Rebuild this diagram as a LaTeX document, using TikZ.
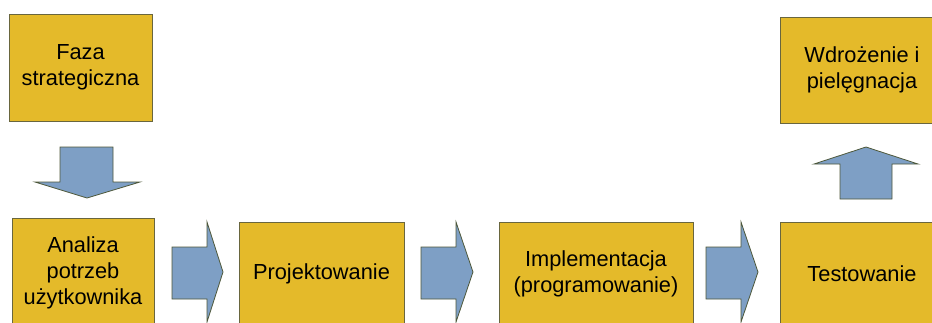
\documentclass[tikz,border=0pt]{standalone}
\usepackage{fontspec}
\setmainfont{Liberation Sans}
\definecolor{phase}{RGB}{228,186,42}
\definecolor{phaseline}{RGB}{105,102,62}
\definecolor{flow}{RGB}{126,159,197}
\definecolor{flowline}{RGB}{78,88,58}
\begin{document}
\begin{tikzpicture}[x=1pt,y=-1pt,
  phasebox/.style={draw=phaseline, fill=phase, line width=0.8pt, align=center,
    inner sep=0pt, font=\fontsize{21.8}{26}\selectfont},
  flowarrow/.style={draw=flowline, fill=flow, line width=0.8pt, line join=miter}]
\useasboundingbox (0,0) rectangle (932,322);
\clip (0,0) rectangle (932,322);

% phases of the software life cycle
\node[phasebox, minimum width=143pt, minimum height=107pt] (faza) at (80.5,67.5) {Faza\\strategiczna};
\node[phasebox, minimum width=142pt, minimum height=110pt] (analiza) at (83,273) {Analiza\\potrzeb\\użytkownika};
\node[phasebox, minimum width=165pt, minimum height=104pt] (proj) at (321.5,274) {Projektowanie};
\node[phasebox, minimum width=194pt, minimum height=104pt] (impl) at (596,274) {Implementacja\\(programowanie)};
\node[phasebox, minimum width=164pt, minimum height=104pt] (test) at (862,274) {Testowanie};
\node[phasebox, minimum width=164pt, minimum height=106pt] (wdroz) at (862,70) {Wdrożenie i\\pielęgnacja};

% block arrow pointing down
\draw[flowarrow] (60,147) -- (113,147) -- (113,182) -- (140,182) -- (87,198)
  -- (35,182) -- (60,182) -- cycle;

% block arrows pointing right: shaft start, shaft end, tip
\foreach \xa/\xb/\xt in {172/207/223, 421/456/473, 706/741/758}
  \draw[flowarrow] (\xa,247) -- (\xb,247) -- (\xb,222) -- (\xt,272) -- (\xb,322)
    -- (\xb,299) -- (\xa,299) -- cycle;

% block arrow pointing up
\draw[flowarrow] (840,199) -- (892,199) -- (892,164) -- (918,164) -- (866,147)
  -- (814,164) -- (840,164) -- cycle;
\end{tikzpicture}
\end{document}
